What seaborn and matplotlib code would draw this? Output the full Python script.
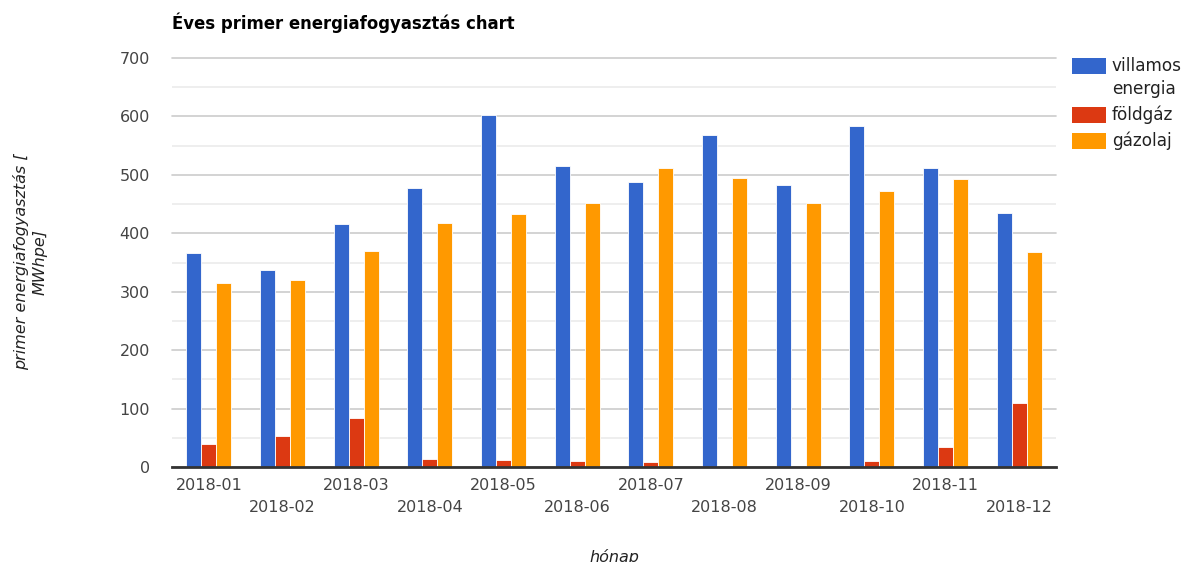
import pandas as pd
import numpy as np
import matplotlib.pyplot as plt
import seaborn as sns
from matplotlib.patches import Rectangle

months = ['2018-01', '2018-02', '2018-03', '2018-04', '2018-05', '2018-06',
          '2018-07', '2018-08', '2018-09', '2018-10', '2018-11', '2018-12']
villamos = [366, 337, 416, 477, 602, 515, 488, 568, 483, 584, 512, 435]
foldgaz = [39, 53, 84, 14, 12, 10, 8, 0, 0, 10, 34, 110]
gazolaj = [315, 320, 370, 418, 433, 452, 512, 495, 452, 472, 493, 368]
series = ['villamos energia', 'földgáz', 'gázolaj']
legend_labels = ['villamos\nenergia', 'földgáz', 'gázolaj']
colors = ['#3366CC', '#DC3912', '#FF9900']

df = pd.DataFrame({'hónap': months * 3,
                   'érték': villamos + foldgaz + gazolaj,
                   'sorozat': [s for s in series for _ in months]})

sns.set_style('white')
plt.rcParams['font.family'] = ['DejaVu Sans']

W, H = 1182, 562
fig = plt.figure(figsize=(W / 100, H / 100), dpi=100)
ax = fig.add_axes([172/W, 1-467/H, (1056-172)/W, (467-58)/H])

sns.barplot(data=df, x='hónap', y='érték', hue='sorozat', palette=colors,
            width=0.61, saturation=1, ax=ax, legend=False, zorder=3)
for p in ax.patches:
    p.set_edgecolor('white')
    p.set_linewidth(0.6)

ax.set_ylim(0, 700)
ax.set_xlim(-0.5, 11.5)
ax.set_yticks(range(0, 701, 100))
ax.set_yticks(range(50, 700, 100), minor=True)
ax.grid(axis='y', which='major', color='#cccccc', linewidth=1.2, zorder=0)
ax.grid(axis='y', which='minor', color='#ebebeb', linewidth=1.2, zorder=0)
for gl in ax.get_ygridlines():
    gl.set_clip_on(False)
ax.set_axisbelow(True)
for s in ['top', 'right', 'left']:
    ax.spines[s].set_visible(False)
ax.spines['bottom'].set_color('#333333')
ax.spines['bottom'].set_linewidth(2)
ax.spines['bottom'].set_zorder(5)

ax.tick_params(axis='both', which='both', length=0, labelsize=11.5, labelcolor='#444444')
ax.tick_params(axis='y', pad=16)
for i, t in enumerate(ax.xaxis.get_major_ticks()):
    t.set_pad(8 if i % 2 == 0 else 24)

ax.set_xlabel('hónap', style='italic', fontsize=11.5, color='#222222', labelpad=24)
ax.set_ylabel('')
fig.text(30/W, 1-262/H, 'primer energiafogyasztás [\nMWhpe]', rotation=90,
         style='italic', fontsize=11.5, color='#222222', ha='center', va='center',
         multialignment='center', linespacing=1.3)
fig.text(172/W, 1-23/H, 'Éves primer energiafogyasztás chart',
         fontsize=11.9, fontweight='bold', color='#000000', ha='left', va='center')

# legend
leg_y = [66, 115, 141]
for c, lab, y in zip(colors, legend_labels, leg_y):
    fig.add_artist(Rectangle((1072/W, 1-(y+8)/H), 34/W, 16/H, facecolor=c,
                             edgecolor='none', transform=fig.transFigure))
    fig.text(1112/W, 1-(y-9)/H, lab, fontsize=12.2, color='#222222',
             ha='left', va='top', linespacing=1.35)

fig.savefig('out.png', dpi=100)
